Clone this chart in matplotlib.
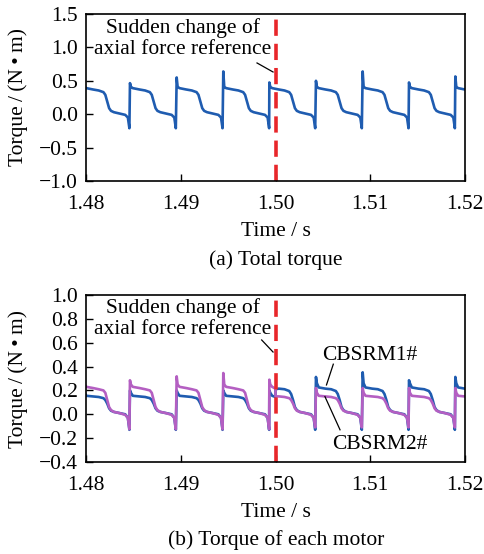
import matplotlib
matplotlib.use("Agg")
import matplotlib.pyplot as plt

plt.rcParams['font.family'] = ['Liberation Serif', 'DejaVu Serif']
plt.rcParams['mathtext.fontset'] = 'stix'

# ---------------- data ----------------
# times of the torque peaks (start of each commutation cycle), s
peak_times = [1.47974, 1.48464, 1.48957, 1.49449, 1.49935,
              1.50427, 1.50920, 1.51409, 1.51898]

# (a) total torque: peak value of each cycle, N*m
total_peaks = [0.50, 0.465, 0.55, 0.64, 0.475, 0.50, 0.64, 0.475, 0.565]

# waveform shape after each peak: time offset (s) and torque value (N*m)
cycle_offsets = [0.0001, 0.0003, 0.0010, 0.0016, 0.0021, 0.0023, 0.0025,
                 0.0027, 0.0029, 0.0032, 0.0038, 0.0044, 0.00468, 0.00484]
total_cycle = [0.41, 0.39, 0.37, 0.355, 0.33, 0.29, 0.19,
               0.09, 0.05, 0.03, 0.01, -0.01, -0.05, -0.21]

# (b) each motor, before / after the axial force reference change
m1_cycle_before = [0.18, 0.155, 0.15, 0.145, 0.135, 0.12, 0.09,
                   0.05, 0.03, 0.02, 0.01, 0.0, -0.03, -0.13]
m1_cycle_after = [0.26, 0.225, 0.215, 0.21, 0.195, 0.17, 0.12,
                  0.06, 0.035, 0.02, 0.01, 0.0, -0.03, -0.13]
m2_cycle_before = [0.25, 0.23, 0.22, 0.21, 0.20, 0.18, 0.12,
                   0.06, 0.035, 0.02, 0.01, -0.005, -0.03, -0.125]
m2_cycle_after = [0.18, 0.155, 0.15, 0.145, 0.135, 0.12, 0.09,
                  0.05, 0.03, 0.02, 0.01, -0.005, -0.03, -0.11]
m1_peaks = [0.20, 0.20, 0.20, 0.20, 0.20, 0.313, 0.352, 0.285, 0.313]
m2_peaks = [0.26, 0.285, 0.318, 0.346, 0.29, 0.22, 0.22, 0.22, 0.22]

switch_time = 1.50
m1_switch = (0.145, 0.21)
m2_switch = (0.215, 0.15)

x_ticks = [1.48, 1.49, 1.50, 1.51, 1.52]
y_ticks_a = [-1.0, -0.5, 0.0, 0.5, 1.0, 1.5]
y_ticks_b = [-0.4, -0.2, 0.0, 0.2, 0.4, 0.6, 0.8, 1.0]

annot_text = "Sudden change of\naxial force reference"
FS = 15.5


def build(peaks, before, after, sw_vals=None):
    t, y = [], []
    inserted = False
    for pt, pv in zip(peak_times, peaks):
        t.append(pt)
        y.append(pv)
        for off, vb, va in zip(cycle_offsets, before, after):
            tt = pt + off
            if sw_vals is not None and not inserted and t[-1] < switch_time <= tt:
                t += [switch_time, switch_time]
                y += list(sw_vals)
                inserted = True
            t.append(tt)
            y.append(vb if tt < switch_time else va)
    return t, y


BLUE = '#1f5cb0'
PURPLE = '#b45fc2'
RED = '#e8262a'

fig = plt.figure(figsize=(4.84, 5.54), dpi=100)
W, H = 484, 554
axA = fig.add_axes([86 / W, 1 - 181 / H, 379 / W, 167 / H])
axB = fig.add_axes([86 / W, 1 - 462 / H, 379 / W, 167 / H])

for ax in (axA, axB):
    ax.set_xlim(1.48, 1.52)
    ax.set_xticks(x_ticks)
    ax.set_xticklabels([f"{v:.2f}" for v in x_ticks])
    ax.tick_params(direction='in', length=5, width=1.0, labelsize=FS,
                   top=False, right=False, pad=6)
    ax.tick_params(axis='x', pad=10)
    for s in ax.spines.values():
        s.set_linewidth(1.2)
    ax.set_xlabel("Time / s", fontsize=FS, labelpad=6)
    ax.set_ylabel("Torque\u2009/\u2009(N\u2009•\u2009m)", fontsize=FS)
    ax.yaxis.set_label_coords(-0.153, 0.5)

# (a)
t, y = build(total_peaks, total_cycle, total_cycle)
axA.plot(t, y, color=BLUE, lw=1.9)
axA.set_ylim(-1.0, 1.5)
axA.set_yticks(y_ticks_a)
axA.set_yticklabels(["\u22121.0", "\u22120.5", "0.0", "0.5", "1.0", "1.5"])
axA.axvline(switch_time, color=RED, lw=2.6, dashes=(4.5, 2.2))
axA.text(1.4902, 1.13, annot_text, ha='center', va='center', fontsize=FS,
         linespacing=1.15)
axA.plot([1.49805, 1.49974], [0.767, 0.632], color='black', lw=0.9)

# (b)
t1, y1 = build(m1_peaks, m1_cycle_before, m1_cycle_after, m1_switch)
t2, y2 = build(m2_peaks, m2_cycle_before, m2_cycle_after, m2_switch)
axB.plot(t1, y1, color=BLUE, lw=1.9)
axB.plot(t2, y2, color=PURPLE, lw=1.9)
axB.set_ylim(-0.4, 1.0)
axB.set_yticks(y_ticks_b)
axB.set_yticklabels(["\u22120.4", "\u22120.2", "0.0", "0.2", "0.4", "0.6", "0.8", "1.0"])
axB.axvline(switch_time, color=RED, lw=2.6, dashes=(4.5, 2.2))
axB.text(1.4902, 0.80, annot_text, ha='center', va='center', fontsize=FS,
         linespacing=1.15)
axB.plot([1.49854, 1.49974], [0.623, 0.522], color='black', lw=0.9)
axB.text(1.50997, 0.497, "CBSRM1#", ha='center', va='center', fontsize=FS)
axB.plot([1.5061, 1.50538], [0.42, 0.246], color='black', lw=0.9)
axB.text(1.51103, -0.257, "CBSRM2#", ha='center', va='center', fontsize=FS)
axB.plot([1.50681, 1.50522], [-0.13, 0.148], color='black', lw=0.9)

fig.text(276 / W, 1 - 260 / H, "(a) Total torque", ha='center', va='center', fontsize=FS)
fig.text(276 / W, 1 - 540 / H, "(b) Torque of each motor", ha='center', va='center', fontsize=FS)

fig.savefig("out.png", dpi=100)
